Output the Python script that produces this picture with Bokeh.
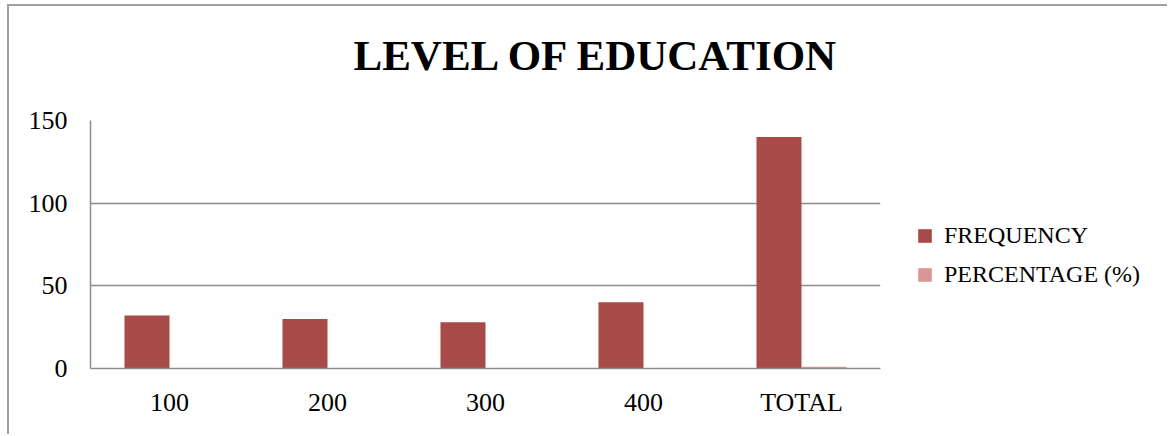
from bokeh.plotting import figure
from bokeh.layouts import row
from bokeh.models import FactorRange, Range1d, FixedTicker, Legend, LegendItem, ColumnDataSource, Title
from bokeh.transform import dodge
from bokeh.embed import file_html
from bokeh.resources import INLINE

categories = ["100", "200", "300", "400", "TOTAL"]
frequency = [32, 30, 28, 40, 140]
percentage = [0.23, 0.21, 0.2, 0.29, 1.0]
y_ticks = [0, 50, 100, 150]
series_names = ["FREQUENCY", "PERCENTAGE (%)"]

FREQ_COLOR = "#A84A48"
PCT_COLOR = "#D99694"
SERIF = "Liberation Serif"
BORDER = "2px solid #a0a0a0"

src = ColumnDataSource(dict(cat=categories, freq=frequency, pct=percentage))

# ---- main chart ----
p = figure(x_range=FactorRange(*categories), y_range=Range1d(0, 150), title=None,
           width=891, height=430, output_backend="svg", toolbar_location=None,
           min_border_left=81, min_border_right=20, min_border_top=114, min_border_bottom=68)
p.margin = (4, 0, 0, 7)
p.styles = {"border-left": BORDER, "border-top": BORDER}

p.vbar(x=dodge("cat", -0.1425, range=p.x_range), top="freq", width=0.285,
       source=src, fill_color=FREQ_COLOR, line_color=None)
p.vbar(x=dodge("cat", 0.1425, range=p.x_range), top="pct", width=0.285,
       source=src, fill_color=PCT_COLOR, line_color=None)

spacer = Title(text=" ", text_font_size="22px")
p.add_layout(spacer, "above")
main_title = Title(text="LEVEL OF EDUCATION", text_font=SERIF, text_font_size="43px",
                   text_font_style="bold", text_color="black", align="left", offset=263)
p.add_layout(main_title, "above")

p.outline_line_color = None
p.background_fill_color = "white"
p.border_fill_color = "white"

p.xgrid.grid_line_color = None
p.ygrid.ticker = FixedTicker(ticks=y_ticks)
p.ygrid.grid_line_color = "#8c8c8c"
p.ygrid.grid_line_width = 1.5

p.yaxis.ticker = FixedTicker(ticks=y_ticks)
for ax in (p.xaxis[0], p.yaxis[0]):
    ax.axis_line_color = "#8c8c8c"
    ax.axis_line_width = 1.5
    ax.major_tick_line_color = None
    ax.minor_tick_line_color = None
    ax.major_label_text_font = SERIF
    ax.major_label_text_font_size = "26px"
    ax.major_label_text_color = "black"
p.yaxis.major_label_standoff = 17
p.xaxis.major_label_standoff = 13

# ---- legend panel (hidden copies of the series provide the legend swatches) ----
lf = figure(x_range=FactorRange(*categories), y_range=Range1d(0, 150),
            width=269, height=430, output_backend="svg", toolbar_location=None,
            x_axis_location=None, y_axis_location=None,
            min_border_left=0, min_border_right=0, min_border_top=0, min_border_bottom=0)
lf.margin = (4, 0, 0, 0)
lf.styles = {"border-top": BORDER}
lf.outline_line_color = None
lf.xgrid.grid_line_color = None
lf.ygrid.grid_line_color = None
lf.border_fill_color = "white"

g1 = lf.vbar(x="cat", top="freq", width=0.285, source=src,
             fill_color=FREQ_COLOR, line_color=None, visible=False)
g2 = lf.vbar(x="cat", top="pct", width=0.285, source=src,
             fill_color=PCT_COLOR, line_color=None, visible=False)

legend = Legend(items=[LegendItem(label=series_names[0], renderers=[g1]),
                       LegendItem(label=series_names[1], renderers=[g2])],
                location=(18, 80))
legend.border_line_color = None
legend.background_fill_alpha = 0
legend.inactive_fill_alpha = 0
legend.padding = 0
legend.margin = 0
legend.spacing = 12
legend.glyph_width = 17
legend.glyph_height = 17
legend.label_standoff = 11
legend.label_text_font = SERIF
legend.label_text_font_size = "24px"
legend.label_text_color = "black"
lf.add_layout(legend, "center")

layout = row(p, lf)
open("out.html", "w").write(file_html(layout, INLINE))
